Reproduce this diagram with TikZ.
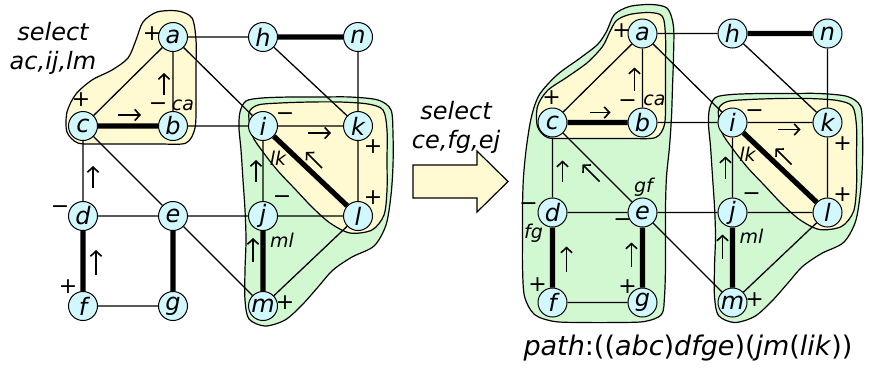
\documentclass[tikz,border=0pt]{standalone}
\usepackage{fontspec}
\setmainfont{DejaVu Sans}
\usepackage{tikz}
\usetikzlibrary{arrows.meta}
\definecolor{vtxfill}{RGB}{210,248,255}
\definecolor{setyellow}{RGB}{255,250,210}
\definecolor{setgreen}{RGB}{210,248,210}

\begin{document}
\begin{tikzpicture}[
  x=0.5pt, y=-0.5pt,
  >={Straight Barb[length=2.6pt, width=5.6pt]},
  vtx/.style={draw, circle, fill=vtxfill, line width=0.5pt, minimum size=14.5pt, inner sep=0pt, font=\fontsize{12}{12}\selectfont\itshape},
  lite/.style={line width=0.65pt},
  heavy/.style={line width=2.6pt},
  yset/.style={draw, fill=setyellow, line width=0.6pt},
  gset/.style={draw, fill=setgreen, line width=0.6pt},
  flow/.style={->, line width=0.8pt},
  sgn/.style={inner sep=0pt, font=\fontsize{11}{11}\selectfont},
  elab/.style={inner sep=0pt, font=\fontsize{9.5}{10}\selectfont\itshape},
  remark/.style={align=center, font=\fontsize{12}{14.5}\selectfont\itshape},
]
  \useasboundingbox (0,0) rectangle (870,372);

  % sets before the selection
  \draw[yset] plot[smooth cycle, tension=0.5] coordinates {(136,40) (143,22) (157,12) (178,11) (192,18) (196,40) (196,70) (196,100) (195,128) (186,143) (160,144) (130,144) (100,144) (78,143) (67,132) (67,112) (76,94) (92,80) (112,70) (128,58)};
  \draw[gset] plot[smooth cycle, tension=0.5] coordinates {(240,112) (246,101) (262,98) (290,97) (320,97) (350,97) (378,100) (391,110) (393,135) (393,165) (391,195) (386,225) (374,246) (352,257) (333,270) (318,287) (302,305) (285,320) (265,326) (249,319) (245,300) (245,270) (246,240) (245,210) (243,180) (241,150) (239,128)};
  \draw[yset] plot[smooth cycle, tension=0.5] coordinates {(249,113) (258,105) (280,103) (310,102) (340,102) (368,104) (383,110) (387,130) (387,160) (387,190) (384,215) (372,230) (350,233) (330,223) (312,207) (295,189) (278,171) (263,152) (252,135)};

  % sets after the selection
  \begin{scope}[shift={(469.5,-3.5)}]
    \draw[gset] plot[smooth cycle, tension=0.5] coordinates {(137,35) (145,18) (160,10) (182,8) (198,12) (204,30) (204,60) (203,90) (202,120) (200,150) (197,180) (196,210) (196,240) (196,270) (195,300) (192,318) (175,325) (145,326) (115,326) (85,325) (65,318) (55,300) (53,270) (53,240) (53,210) (54,180) (57,150) (62,120) (70,98) (88,78) (110,62) (128,48)};
    \draw[yset] plot[smooth cycle, tension=0.5] coordinates {(140,36) (147,24) (160,18) (180,16) (193,20) (196,40) (196,70) (196,100) (195,128) (186,141) (160,142) (130,142) (100,142) (78,141) (68,130) (68,110) (78,94) (97,81) (118,66) (133,50)};
    \draw[gset] plot[smooth cycle, tension=0.5] coordinates {(240,112) (246,101) (262,98) (290,97) (320,97) (350,97) (378,100) (391,110) (393,135) (393,165) (391,195) (386,225) (374,246) (352,257) (333,270) (318,287) (302,305) (285,320) (265,326) (249,319) (245,300) (245,270) (246,240) (245,210) (243,180) (241,150) (239,128)};
    \draw[yset] plot[smooth cycle, tension=0.5] coordinates {(249,113) (258,105) (280,103) (310,102) (340,102) (368,104) (383,110) (387,130) (387,160) (387,190) (384,215) (372,230) (350,233) (330,223) (312,207) (295,189) (278,171) (263,152) (252,135)};
  \end{scope}

  % left graph
  \node[vtx] (a1) at (173,37) {a};
  \node[vtx] (h1) at (263,37) {h};
  \node[vtx] (n1) at (358,37) {n};
  \node[vtx] (c1) at (83,126) {c};
  \node[vtx] (b1) at (173,126) {b};
  \node[vtx] (i1) at (263,126) {i};
  \node[vtx] (k1) at (358,126) {k};
  \node[vtx] (d1) at (83,216) {d};
  \node[vtx] (e1) at (173,216) {e};
  \node[vtx] (j1) at (263,216) {j};
  \node[vtx] (l1) at (358,216) {l};
  \node[vtx] (f1) at (83,306) {f};
  \node[vtx] (g1) at (173,306) {g};
  \node[vtx] (m1) at (263,306) {m};

  \draw[lite] (a1) -- (h1) (a1) -- (b1) (a1) -- (c1) (a1) -- (i1) (h1) -- (k1) (n1) -- (k1)
    (b1) -- (i1) (i1) -- (k1) (i1) -- (j1) (k1) -- (l1) (c1) -- (d1) (c1) -- (e1)
    (d1) -- (e1) (e1) -- (j1) (j1) -- (l1) (e1) -- (m1) (l1) -- (m1) (f1) -- (g1);
  \draw[heavy] (h1) -- (n1) (c1) -- (b1) (i1) -- (l1) (j1) -- (m1) (d1) -- (f1) (e1) -- (g1);

  \node[sgn] (a1p) at (152,34) {+};
  \node[sgn] (c1p) at (81,100) {+};
  \node[sgn] (b1m) at (158,107) {−};
  \node[elab] (ca1) at (183,105) {ca};
  \node[sgn] (d1m) at (60,210) {−};
  \node[sgn] (f1p) at (68,287) {+};
  \node[sgn] (i1m) at (285,117) {−};
  \node[sgn] (k1p) at (373,147) {+};
  \node[elab] (lk1) at (278,158) {lk};
  \node[sgn] (j1m) at (282,200) {−};
  \node[sgn] (l1p) at (373,198) {+};
  \node[elab] (ml1) at (282,240) {ml};
  \node[sgn] (m1p) at (285,303) {+};
  \draw[flow] (164,95) -- (164,73);
  \draw[flow] (118,115) -- (141,115);
  \draw[flow] (93,188) -- (93,166);
  \draw[flow] (96,275) -- (96,250);
  \draw[flow] (308,133) -- (331,133);
  \draw[flow] (322,168) -- (306,152);
  \draw[flow] (256,182) -- (256,160);
  \draw[flow] (253,262) -- (253,238);

  % right graph
  \begin{scope}[shift={(469.5,-3.5)}]
    \node[vtx] (a2) at (173,37) {a};
    \node[vtx] (h2) at (263,37) {h};
    \node[vtx] (n2) at (358,37) {n};
    \node[vtx] (c2) at (83,126) {c};
    \node[vtx] (b2) at (173,126) {b};
    \node[vtx] (i2) at (263,126) {i};
    \node[vtx] (k2) at (358,126) {k};
    \node[vtx] (d2) at (83,216) {d};
    \node[vtx] (e2) at (173,216) {e};
    \node[vtx] (j2) at (263,216) {j};
    \node[vtx] (l2) at (358,216) {l};
    \node[vtx] (f2) at (83,306) {f};
    \node[vtx] (g2) at (173,306) {g};
    \node[vtx] (m2) at (263,306) {m};

    \draw[lite] (a2) -- (h2) (a2) -- (b2) (a2) -- (c2) (a2) -- (i2) (h2) -- (k2) (n2) -- (k2)
      (b2) -- (i2) (i2) -- (k2) (i2) -- (j2) (k2) -- (l2) (c2) -- (d2) (c2) -- (e2)
      (d2) -- (e2) (e2) -- (j2) (j2) -- (l2) (e2) -- (m2) (l2) -- (m2) (f2) -- (g2);
    \draw[heavy] (h2) -- (n2) (c2) -- (b2) (i2) -- (l2) (j2) -- (m2) (d2) -- (f2) (e2) -- (g2);

    \node[sgn] (a2p) at (152,34) {+};
    \node[sgn] (c2p) at (82,101) {+};
    \node[sgn] (b2m) at (158,107) {−};
    \node[elab] (ca2) at (185,104) {ca};
    \node[sgn] (d2m) at (59,210) {−};
    \node[elab] (fg2) at (64,237) {fg};
    \node[sgn] (f2p) at (68,288) {+};
    \node[elab] (gf2) at (174,191) {gf};
    \node[sgn] (e2m) at (153,226) {−};
    \node[sgn] (g2p) at (158,290) {+};
    \node[sgn] (i2m) at (285,117) {−};
    \node[sgn] (k2p) at (373,147) {+};
    \node[elab] (lk2) at (278,158) {lk};
    \node[sgn] (j2m) at (282,200) {−};
    \node[sgn] (l2p) at (373,198) {+};
    \node[elab] (ml2) at (282,240) {ml};
    \node[sgn] (m2p) at (285,303) {+};
    \draw[flow] (165,94) -- (165,71);
    \draw[flow] (120,116) -- (141,116);
    \draw[flow] (93,185) -- (93,164);
    \draw[flow] (130,185) -- (113,168);
    \draw[flow] (97,275) -- (97,250);
    \draw[flow] (162,270) -- (162,246);
    \draw[flow] (308,133) -- (331,133);
    \draw[flow] (322,168) -- (306,152);
    \draw[flow] (256,182) -- (256,160);
    \draw[flow] (253,262) -- (253,238);
  \end{scope}

  \draw[yset] (413,165) -- (477,165) -- (477,151) -- (508,181.5) -- (477,212) -- (477,198) -- (413,198) -- cycle;
  \node[remark] (sel1) at (53,48) {select\\ac,ij,lm};
  \node[remark] (sel2) at (456,127) {select\\ce,fg,ej};
  \node[font=\fontsize{13.5}{16}\selectfont] (path) at (688,348) {\textit{path}:((\textit{abc})\textit{dfge})(\textit{jm}(\textit{lik}))};
\end{tikzpicture}
\end{document}
